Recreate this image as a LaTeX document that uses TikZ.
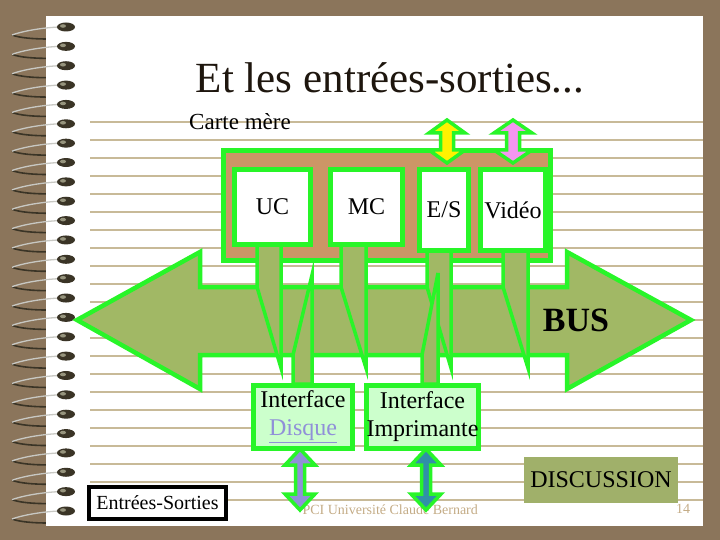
\documentclass[tikz,border=0pt]{standalone}
\usepackage{fontspec}
\setmainfont{Liberation Serif}

\definecolor{pagebrown}{RGB}{139,117,91}
\definecolor{ruleline}{RGB}{200,186,152}
\definecolor{busgreen}{RGB}{40,245,40}
\definecolor{busolive}{RGB}{161,184,101}
\definecolor{boardtan}{RGB}{204,150,102}
\definecolor{ifacefill}{RGB}{204,255,204}
\definecolor{pinkarrow}{RGB}{245,150,240}
\definecolor{diskblue}{RGB}{144,144,216}
\definecolor{tealarrow}{RGB}{48,144,168}
\definecolor{discolive}{RGB}{160,176,106}
\definecolor{footertan}{RGB}{196,172,134}
\definecolor{titleink}{RGB}{30,22,14}
\definecolor{ringdark}{RGB}{58,52,38}
\definecolor{ringhigh}{RGB}{150,148,125}
\definecolor{wiregrey}{RGB}{200,200,195}

\begin{document}
\begin{tikzpicture}[x=1pt, y=-1pt,
        slot/.style={draw=busgreen, line width=5pt, fill=white, inner sep=0pt, font=\fontsize{24}{26}\selectfont},
        iface/.style={draw=busgreen, line width=5pt, fill=ifacefill, inner sep=0pt, align=center, font=\fontsize{24}{28}\selectfont},
        feed/.style={draw=busgreen, line width=3.5pt, fill=busolive},
        duplex/.style={draw=busgreen, line width=3.5pt, miter limit=20}
    ]
    \useasboundingbox (0,0) rectangle (720,540);
    \fill[pagebrown] (0,0) rectangle (720,540);

    % spiral, back strands
    \foreach \k in {0,...,25} {
        \pgfmathsetmacro{\yy}{27+19.36*\k}
        \draw[ringdark, line width=1.6pt] (12,{\yy+8}) .. controls (20,{\yy+11}) and (34,{\yy+12}) .. (48,{\yy+12});
    }
    \fill[white] (46,16) rectangle (703,526);
    \foreach \k in {0,...,21}
        \draw[ruleline, line width=1.2pt] (90,{122+18*\k}) -- (703,{122+18*\k});
    % spiral, front strands and holes
    \foreach \k in {0,...,25} {
        \pgfmathsetmacro{\yy}{27+19.36*\k}
        \draw[wiregrey, line width=1.3pt] (59,\yy) .. controls (38,{\yy+1}) and (20,{\yy+5}) .. (12,{\yy+8});
        \fill[ringdark] (66,\yy) ellipse [x radius=9pt, y radius=4.5pt];
        \fill[ringhigh] (63,{\yy-1}) ellipse [x radius=3pt, y radius=1.8pt];
    }

    \node[font=\fontsize{43}{48}\selectfont, text=titleink] (title) at (390,78) {Et les entrées-sorties...};
    \node[font=\fontsize{23}{26}\selectfont] (carte) at (240,122) {Carte mère};

    % board
    \node[draw=busgreen, line width=5pt, fill=boardtan, minimum width=327pt, minimum height=110pt] (board) at (387,205.5) {};
    \node[slot, minimum width=76pt, minimum height=75pt] (uc) at (272.5,207) {UC};
    \node[slot, minimum width=72pt, minimum height=75pt] (mc) at (366.5,207) {MC};
    \node[slot, minimum width=49pt, minimum height=81pt] (es) at (444,210) {E/S};
    \node[slot, minimum width=65pt, minimum height=81pt] (video) at (513,210) {Vidéo};

    \foreach \xc/\yt/\yb/\hw/\sw/\hl/\col in {447/120/163/18/6.5/13/yellow, 513/120/163/19/6.5/13/pinkarrow}
        \filldraw[duplex, fill=\col] (\xc,\yt) -- ({\xc+\hw},{\yt+\hl}) -- ({\xc+\sw},{\yt+\hl}) -- ({\xc+\sw},{\yb-\hl})
            -- ({\xc+\hw},{\yb-\hl}) -- (\xc,\yb) -- ({\xc-\hw},{\yb-\hl}) -- ({\xc-\sw},{\yb-\hl})
            -- ({\xc-\sw},{\yt+\hl}) -- ({\xc-\hw},{\yt+\hl}) -- cycle;

    % bus
    \filldraw[draw=busgreen, fill=busolive, line width=4.5pt] (77,320) -- (200,252) -- (200,287) -- (567,287) -- (567,252)
        -- (691,320) -- (567,389) -- (567,355) -- (200,355) -- (200,389) -- cycle;
    \node[font=\fontsize{34}{36}\selectfont\bfseries] (bus) at (576,320) {BUS};

    % down feeds from the board
    \filldraw[feed] (257,245) -- (281,245) -- (281,368) -- (257,287) -- cycle;
    \filldraw[feed] (341,245) -- (366,245) -- (366,368) -- (341,287) -- cycle;
    \filldraw[feed] (427,251) -- (451,251) -- (451,368) -- (427,287) -- cycle;
    \filldraw[feed] (503,251) -- (528,251) -- (528,368) -- (503,287) -- cycle;
    % up feeds from the interfaces
    \filldraw[feed] (293,384) -- (312,384) -- (312,275) -- (293,355) -- cycle;
    \filldraw[feed] (422,384) -- (438,384) -- (438,273) -- (422,355) -- cycle;

    \node[iface, minimum width=99pt, minimum height=63pt] (disque) at (303,417) {Interface\\\textcolor{diskblue}{\underline{Disque}}};
    \node[iface, minimum width=112pt, minimum height=63pt] (imprim) at (422.5,417) {Interface\\Imprimante};

    \node[draw=black, line width=3.5pt, fill=white, minimum width=137pt, minimum height=32pt, font=\fontsize{20}{22}\selectfont] (es2) at (157.5,503) {Entrées-Sorties};
    \node[fill=discolive, minimum width=154pt, minimum height=46pt, font=\fontsize{24}{26}\selectfont] (disc) at (601,480) {DISCUSSION};
    \node[anchor=west, text=footertan, font=\fontsize{14}{16}\selectfont] (footer) at (299,510) {PCI Université Claude Bernard};
    \node[text=footertan, font=\fontsize{14}{16}\selectfont] (pagenum) at (683,509) {14};

    \foreach \xc/\yt/\yb/\hw/\sw/\hl/\col in {300/449/510/15/4.5/16/diskblue, 426/449/510/15/4.5/16/tealarrow}
        \filldraw[duplex, fill=\col] (\xc,\yt) -- ({\xc+\hw},{\yt+\hl}) -- ({\xc+\sw},{\yt+\hl}) -- ({\xc+\sw},{\yb-\hl})
            -- ({\xc+\hw},{\yb-\hl}) -- (\xc,\yb) -- ({\xc-\hw},{\yb-\hl}) -- ({\xc-\sw},{\yb-\hl})
            -- ({\xc-\sw},{\yt+\hl}) -- ({\xc-\hw},{\yt+\hl}) -- cycle;
\end{tikzpicture}
\end{document}
